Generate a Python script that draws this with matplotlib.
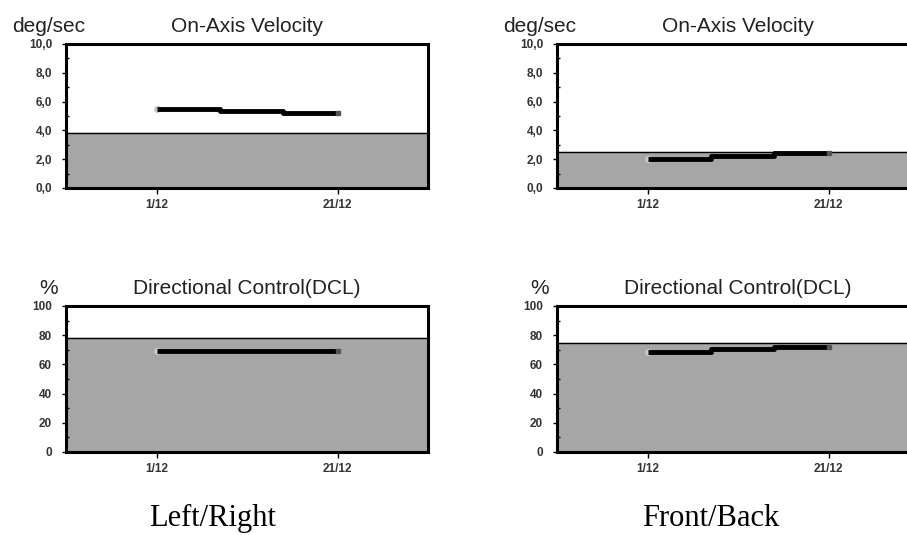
import numpy as np
import matplotlib.pyplot as plt
from matplotlib.ticker import MultipleLocator, FixedLocator

# days of December at which the values were recorded
days = [1, 8, 15, 21]
date_ticks = [1, 21]
date_labels = ['1/12', '21/12']

lr_velocity = [5.5, 5.35, 5.2, 5.2]
fb_velocity = [2.0, 2.25, 2.4, 2.4]
lr_dcl = [69, 69, 69, 69]
fb_dcl = [68.7, 70.3, 71.8, 71.8]

lr_velocity_norm = 3.8
fb_velocity_norm = 2.5
lr_dcl_norm = 78
fb_dcl_norm = 75

W, H = 907, 535
fig = plt.figure(figsize=(W / 100, H / 100), dpi=100)
plt.rcParams['font.family'] = ['Liberation Sans', 'DejaVu Sans']


def make_axes(left, top, bottom):
    return fig.add_axes([left / W, 1 - bottom / H, 362 / W, (bottom - top) / H])


def draw_panel(ax, values, norm, ymax, ystep, yminor, fmt, unit, title):
    ax.set_xlim(-9, 31)
    ax.set_ylim(0, ymax)
    ax.axhspan(0, norm, color='#a6a6a6', zorder=0)
    ax.axhline(norm, color='black', lw=1, zorder=1)
    ax.plot(days, values, color='black', lw=3.5, drawstyle='steps-post',
            solid_capstyle='butt', zorder=3)
    ax.plot(days[0], values[0], 'o', ms=4, color='#c8c8c8', zorder=2)
    ax.plot(days[-1], values[-1], 's', ms=3.5, color='#555555', zorder=4)

    ax.xaxis.set_major_locator(FixedLocator(date_ticks))
    ax.set_xticklabels(date_labels)
    ax.yaxis.set_major_locator(MultipleLocator(ystep))
    ax.yaxis.set_minor_locator(MultipleLocator(yminor))
    ax.yaxis.set_major_formatter(plt.FuncFormatter(fmt))
    ax.tick_params(axis='x', direction='out', length=4, width=1, pad=4,
                   labelsize=8.5, labelcolor='#333333')
    ax.tick_params(axis='y', which='major', direction='out', length=3,
                   width=1, pad=7, labelsize=8.5, labelcolor='#333333')
    ax.tick_params(axis='y', which='minor', direction='in', length=2, width=1)
    for lbl in ax.get_yticklabels() + ax.get_xticklabels():
        lbl.set_fontweight('bold')
    for s in ax.spines.values():
        s.set_linewidth(2.2)
    ax.annotate(title, xy=(0.5, 1), xycoords='axes fraction', xytext=(0, 17),
                textcoords='offset pixels', ha='center', va='center',
                fontsize=15, color='#222222')
    ax.annotate(unit, xy=(0, 1), xycoords='axes fraction', xytext=(-17, 17),
                textcoords='offset pixels', ha='center', va='center',
                fontsize=15, color='#222222')


def vel_fmt(v, pos):
    return ('%.1f' % v).replace('.', ',')


def pct_fmt(v, pos):
    return '%d' % v


ax1 = make_axes(66, 44, 188)
ax2 = make_axes(557, 44, 188)
ax3 = make_axes(66, 306, 452)
ax4 = make_axes(557, 306, 452)

draw_panel(ax1, lr_velocity, lr_velocity_norm, 10, 2, 1, vel_fmt,
           'deg/sec', 'On-Axis Velocity')
draw_panel(ax2, fb_velocity, fb_velocity_norm, 10, 2, 1, vel_fmt,
           'deg/sec', 'On-Axis Velocity')
draw_panel(ax3, lr_dcl, lr_dcl_norm, 100, 20, 10, pct_fmt,
           '%', 'Directional Control(DCL)')
draw_panel(ax4, fb_dcl, fb_dcl_norm, 100, 20, 10, pct_fmt,
           '%', 'Directional Control(DCL)')

fig.text(213 / W, 1 - 518 / H, 'Left/Right', ha='center', va='center',
         fontsize=22, family='Liberation Serif')
fig.text(711 / W, 1 - 518 / H, 'Front/Back', ha='center', va='center',
         fontsize=22, family='Liberation Serif')

fig.savefig('out.png', dpi=100)
